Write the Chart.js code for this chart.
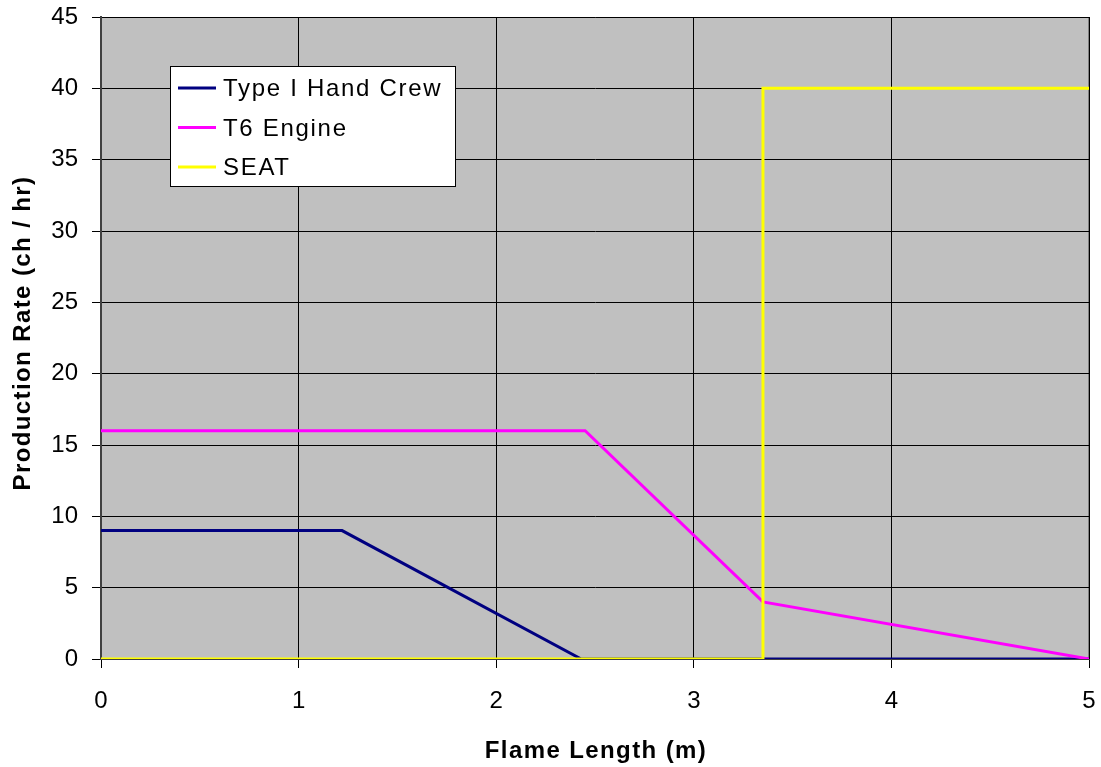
<!DOCTYPE html>
<html>
<head>
<meta charset="utf-8">
<script src="https://cdn.jsdelivr.net/npm/chart.js@4/dist/chart.umd.min.js"></script>
<style>
  html, body { margin: 0; padding: 0; background: #ffffff; }
  #wrap { width: 1101px; height: 767px; }
</style>
</head>
<body>
<div id="wrap"><canvas id="chart" width="1101" height="767"></canvas></div>
<script>
// Production rate (chains per hour) versus flame length (m) for three resources
const handCrewX = [0, 1.22, 2.43, 5];
const handCrewY = [9, 9, 0, 0];
const engineX = [0, 2.45, 3.35, 5];
const engineY = [16, 16, 4, 0];
const seatX = [0, 3.35, 3.35, 5];
const seatY = [0, 0, 40, 40];

const seriesNames = ['Type I Hand Crew', 'T6 Engine', 'SEAT'];
const seriesColors = ['#000080', '#FF00FF', '#FFFF00'];

const xTitle = 'Flame Length (m)';
const yTitle = 'Production Rate (ch / hr)';

const FONT = '"Liberation Sans", Arial, sans-serif';

function pts(xs, ys) { return xs.map((x, i) => ({ x: x, y: ys[i] })); }

// Gray plot background with a thin frame
const plotBackground = {
  id: 'plotBackground',
  beforeDraw(chart) {
    const { ctx, chartArea: a } = chart;
    ctx.save();
    ctx.fillStyle = '#C0C0C0';
    ctx.fillRect(a.left, a.top, a.right - a.left, a.bottom - a.top);
    ctx.strokeStyle = '#808080';
    ctx.lineWidth = 1;
    ctx.strokeRect(a.left + 0.5, a.top + 0.5, a.right - a.left - 1, a.bottom - a.top - 1);
    ctx.restore();
  }
};

// Axis titles, drawn with a little extra letter spacing
const axisTitles = {
  id: 'axisTitles',
  afterDraw(chart) {
    const { ctx, chartArea: a } = chart;
    ctx.save();
    ctx.fillStyle = '#000000';
    ctx.font = 'bold 24px ' + FONT;
    ctx.letterSpacing = '1.4px';
    ctx.textAlign = 'center';
    ctx.textBaseline = 'alphabetic';
    ctx.fillText(xTitle, (a.left + a.right) / 2 + 1, 758);
    ctx.translate(30, (a.top + a.bottom) / 2 - 5);
    ctx.rotate(-Math.PI / 2);
    ctx.fillText(yTitle, 0, 0);
    ctx.restore();
  }
};

// Boxed legend placed inside the plot area
const boxLegend = {
  id: 'boxLegend',
  afterDatasetsDraw(chart, args, opts) {
    const { ctx } = chart;
    const { x, y, w, h, rowGap, firstRow } = opts;
    ctx.save();
    ctx.fillStyle = '#ffffff';
    ctx.fillRect(x, y, w, h);
    ctx.strokeStyle = '#000000';
    ctx.lineWidth = 1;
    ctx.strokeRect(x + 0.5, y + 0.5, w, h);
    ctx.font = '24px ' + FONT;
    ctx.letterSpacing = '1.7px';
    ctx.textBaseline = 'alphabetic';
    ctx.textAlign = 'left';
    seriesNames.forEach((name, i) => {
      const cy = y + firstRow + i * rowGap;
      ctx.strokeStyle = seriesColors[i];
      ctx.lineWidth = 3;
      ctx.beginPath();
      ctx.moveTo(x + 8, cy);
      ctx.lineTo(x + 46, cy);
      ctx.stroke();
      ctx.fillStyle = '#000000';
      ctx.fillText(name, x + 53, cy + 8);
    });
    ctx.restore();
  }
};

const datasets = [
  { label: seriesNames[0], data: pts(handCrewX, handCrewY), borderColor: seriesColors[0], order: 2 },
  { label: seriesNames[1], data: pts(engineX, engineY), borderColor: seriesColors[1], order: 1 },
  { label: seriesNames[2], data: pts(seatX, seatY), borderColor: seriesColors[2], order: 0 }
].map(d => Object.assign(d, {
  borderWidth: 3, pointRadius: 0, fill: false, tension: 0,
  borderJoinStyle: 'miter', borderCapStyle: 'butt'
}));

new Chart(document.getElementById('chart'), {
  type: 'line',
  data: { datasets: datasets },
  options: {
    responsive: false,
    animation: false,
    devicePixelRatio: 1,
    layout: { padding: { top: 17, right: 12, left: 0, bottom: 0 } },
    plugins: {
      legend: { display: false },
      tooltip: { enabled: false },
      boxLegend: { x: 170, y: 66, w: 285, h: 120, firstRow: 22, rowGap: 39.5 }
    },
    scales: {
      x: {
        type: 'linear',
        min: 0, max: 5,
        afterFit(scale) {
          scale.height = 108;
          scale.paddingLeft = 0;
          scale.paddingRight = 0;
        },
        ticks: {
          stepSize: 1, padding: 19, color: '#000000',
          font: { family: FONT, size: 24 }, maxRotation: 0
        },
        grid: { color: '#000000', lineWidth: 1, tickLength: 9, drawTicks: true },
        border: { color: '#404040', width: 1 },
        title: { display: false }
      },
      y: {
        type: 'linear',
        min: 0, max: 45,
        afterFit(scale) {
          scale.width = 101;
          scale.paddingTop = 0;
          scale.paddingBottom = 0;
        },
        ticks: {
          stepSize: 5, padding: 14, color: '#000000',
          font: { family: FONT, size: 24 }
        },
        grid: { color: '#000000', lineWidth: 1, tickLength: 9, drawTicks: true },
        border: { color: '#404040', width: 2 },
        title: { display: false }
      }
    }
  },
  plugins: [plotBackground, boxLegend, axisTitles]
});
</script>
</body>
</html>
